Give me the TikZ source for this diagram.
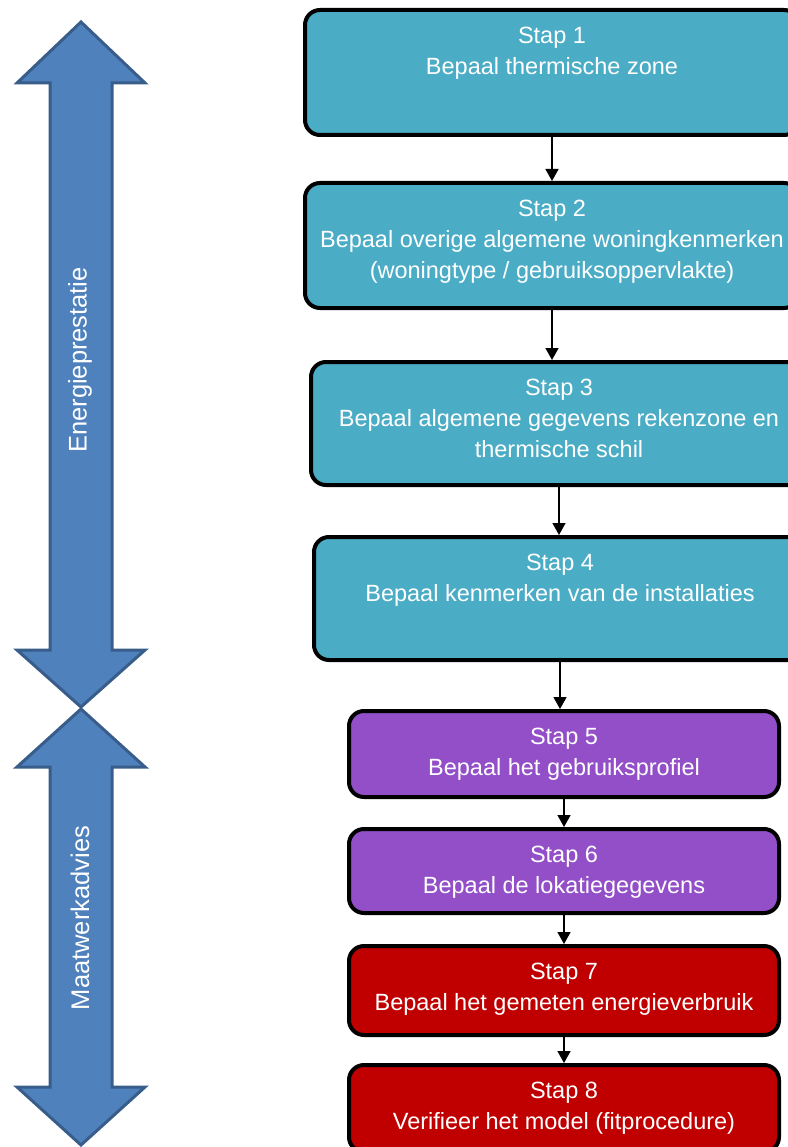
\documentclass[tikz,border=0pt]{standalone}
\usepackage{fontspec}
\setmainfont{Liberation Sans}
\usetikzlibrary{arrows.meta}
\definecolor{teal1}{HTML}{4BACC6}
\definecolor{purp1}{HTML}{924FC8}
\definecolor{red1}{HTML}{C00000}
\definecolor{bfill}{HTML}{4F81BD}
\definecolor{bline}{HTML}{385D8A}
\tikzset{
  stepbox/.style={draw=black, line width=4pt, rounded corners=15pt, inner sep=0pt},
  steptext/.style={anchor=north, yshift=-17pt, text=white, align=center, inner sep=2pt,
    font=\fontsize{23.5}{31}\selectfont},
  conn/.style={line width=1.5pt, -{Triangle[width=13pt,length=12pt]}},
  bigarrow/.style={fill=bfill, draw=bline, line width=3pt, line join=miter},
  sidetext/.style={text=white, rotate=90, font=\fontsize{25.5}{30}\selectfont, inner sep=0pt}
}
\begin{document}
\begin{tikzpicture}[x=1pt,y=-1pt]
\useasboundingbox (0,0) rectangle (787,1147);
% big double arrows
\draw[bigarrow] (81,22) -- (145,83) -- (112,83) -- (112,650) -- (145,650) -- (81,707)
  -- (17,650) -- (50,650) -- (50,83) -- (17,83) -- cycle;
\draw[bigarrow] (81,709) -- (145,767) -- (112,767) -- (112,1087) -- (145,1087) -- (81,1145)
  -- (17,1087) -- (50,1087) -- (50,767) -- (17,767) -- cycle;
\node[sidetext] (ep) at (80,360) {Energieprestatie};
\node[sidetext] (mw) at (80,918) {Maatwerkadvies};
% boxes
\node[stepbox, fill=teal1, minimum width=494pt, minimum height=125pt,
  label={[steptext]north:Stap 1\\Bepaal thermische zone}] (b1) at (552,72.5) {};
\node[stepbox, fill=teal1, minimum width=494pt, minimum height=125pt,
  label={[steptext]north:Stap 2\\Bepaal overige algemene woningkenmerken\\(woningtype / gebruiksoppervlakte)}] (b2) at (552,245.5) {};
\node[stepbox, fill=teal1, minimum width=496pt, minimum height=123pt,
  label={[steptext]north:Stap 3\\Bepaal algemene gegevens rekenzone en\\thermische schil}] (b3) at (559,423.5) {};
\node[stepbox, fill=teal1, minimum width=492pt, minimum height=123pt,
  label={[steptext]north:Stap 4\\Bepaal kenmerken van de installaties}] (b4) at (560,598.5) {};
\node[stepbox, fill=purp1, minimum width=430pt, minimum height=86pt,
  label={[steptext]north:Stap 5\\Bepaal het gebruiksprofiel}] (b5) at (564,754) {};
\node[stepbox, fill=purp1, minimum width=430pt, minimum height=84pt,
  label={[steptext]north:Stap 6\\Bepaal de lokatiegegevens}] (b6) at (564,871) {};
\node[stepbox, fill=red1, minimum width=430pt, minimum height=89pt,
  label={[steptext]north:Stap 7\\Bepaal het gemeten energieverbruik}] (b7) at (564,990.5) {};
\node[stepbox, fill=red1, minimum width=430pt, minimum height=87pt,
  label={[steptext]north:Stap 8\\Verifieer het model (fitprocedure)}] (b8) at (564,1108.5) {};
% connectors
\draw[conn] (b1.south) -- (b1.south |- b2.north);
\draw[conn] (b2.south) -- (b2.south |- b3.north);
\draw[conn] (b3.south) -- (b3.south |- b4.north);
\draw[conn] (b4.south) -- (b4.south |- b5.north);
\draw[conn] (b5.south) -- (b5.south |- b6.north);
\draw[conn] (b6.south) -- (b6.south |- b7.north);
\draw[conn] (b7.south) -- (b7.south |- b8.north);
\end{tikzpicture}
\end{document}
